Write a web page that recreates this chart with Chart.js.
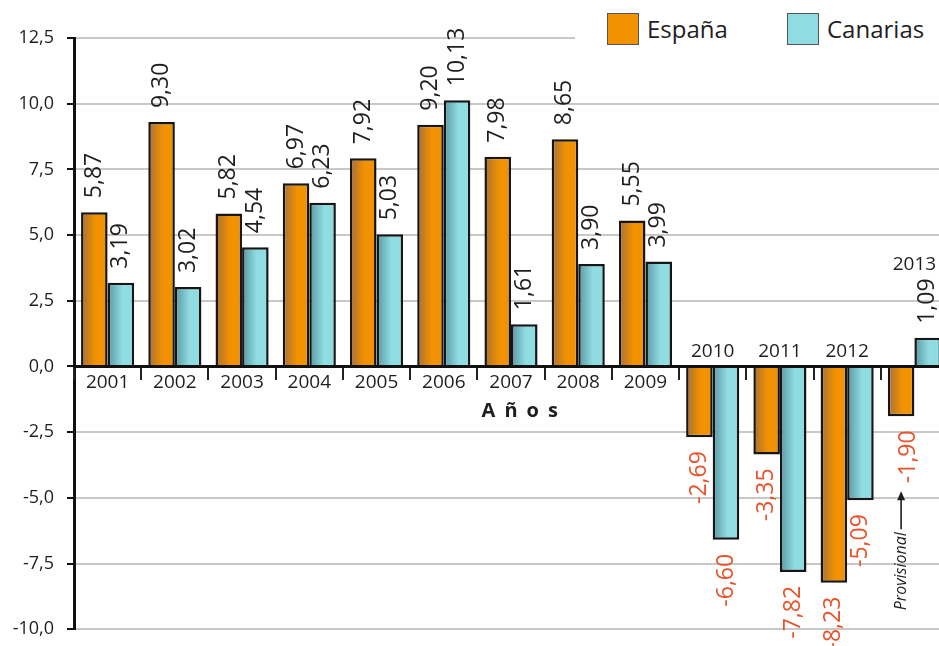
<!DOCTYPE html>
<html>
<head>
<meta charset="utf-8">
<script src="https://cdn.jsdelivr.net/npm/chart.js@4/dist/chart.umd.min.js"></script>
<style>
  html, body { margin: 0; padding: 0; background: #fff; overflow: hidden; }
  #wrap { position: relative; width: 948px; height: 653px; }
  #legend { position: absolute; left: 575px; top: 0; width: 373px; height: 52px; background: #fff;
            font-family: "Open Sans", sans-serif; font-size: 24px; color: #1e1e1e; }
  #legend .item { position: absolute; top: 13px; height: 32px; line-height: 32px; }
  #legend .sw { display: inline-block; width: 30px; height: 30px; vertical-align: top; margin-right: 8px; border: 1px solid #555; }
</style>
</head>
<body>
<div id="wrap">
  <canvas id="myChart"></canvas>
  <div id="legend"></div>
</div>
<script>
var years = ['2001','2002','2003','2004','2005','2006','2007','2008','2009','2010','2011','2012','2013'];
var espana = [5.87, 9.30, 5.82, 6.97, 7.92, 9.20, 7.98, 8.65, 5.55, -2.69, -3.35, -8.23, -1.90];
var canarias = [3.19, 3.02, 4.54, 6.23, 5.03, 10.13, 1.61, 3.90, 3.99, -6.60, -7.82, -5.09, 1.09];
var yTicks = [-10, -7.5, -5, -2.5, 0, 2.5, 5, 7.5, 10, 12.5];
var provisionalYears = ['2013'];

var FONT = '"Open Sans", sans-serif';
var CAT_PCT = 0.79;

function fmt(v, d) {
	return v.toFixed(d).replace('.', ',');
}

// horizontal shading like the original: darker on the left edge of each bar
function barFill(base, shade) {
	return function(c) {
		var chart = c.chart;
		var xs = chart.scales.x;
		if (!xs || c.dataIndex === undefined || !xs.width) return base;
		var catW = xs.width / years.length;
		var groupW = catW * CAT_PCT;
		var center = xs.getPixelForValue(c.dataIndex);
		var x0 = center - groupW / 2 + c.datasetIndex * groupW / 2;
		var g = chart.ctx.createLinearGradient(x0, 0, x0 + groupW / 2, 0);
		g.addColorStop(0, shade);
		g.addColorStop(0.55, base);
		g.addColorStop(1, base);
		return g;
	};
}

var labelPlugin = {
	id: 'barLabels',
	afterDraw: function(chart) {
		var ctx = chart.ctx;
		var xs = chart.scales.x, ys = chart.scales.y;
		var y0 = ys.getPixelForValue(0);
		var sets = chart.data.datasets;

		ctx.save();
		ctx.font = '23px ' + FONT;
		ctx.textBaseline = 'middle';
		sets.forEach(function(ds, di) {
			chart.getDatasetMeta(di).data.forEach(function(bar, i) {
				var v = ds.data[i];
				var prov = di === 0 && provisionalYears.indexOf(years[i]) >= 0;
				ctx.save();
				ctx.translate(bar.x + (prov ? 7 : 0), bar.y + (v >= 0 ? -14 : 14));
				ctx.rotate(-Math.PI / 2);
				ctx.fillStyle = v >= 0 ? '#1e1e1e' : '#e9522a';
				ctx.textAlign = v >= 0 ? 'left' : 'right';
				ctx.fillText(fmt(v, 2), 0, 0);
				if (prov) {
					var w = ctx.measureText(fmt(v, 2)).width;
					var a = -w - 8;
					ctx.translate(0, -7);
					ctx.strokeStyle = '#1e1e1e';
					ctx.fillStyle = '#1e1e1e';
					ctx.lineWidth = 1.6;
					ctx.beginPath();
					ctx.moveTo(a - 2, 0);
					ctx.lineTo(a - 38, 0);
					ctx.stroke();
					ctx.beginPath();
					ctx.moveTo(a, 0);
					ctx.lineTo(a - 9, -4);
					ctx.lineTo(a - 9, 4);
					ctx.closePath();
					ctx.fill();
					ctx.font = 'italic 16px ' + FONT;
					ctx.textAlign = 'right';
					ctx.fillText('Provisional', a - 41, 0);
				}
				ctx.restore();
			});
		});

		// category labels sit on the zero line
		ctx.font = '19px ' + FONT;
		ctx.fillStyle = '#1e1e1e';
		ctx.textAlign = 'center';
		years.forEach(function(yr, i) {
			var vals = sets.map(function(d) { return d.data[i]; });
			var mx = Math.max.apply(null, vals), mn = Math.min.apply(null, vals);
			var cx = xs.getPixelForValue(i);
			var ty;
			if (mn >= 0) ty = y0 + 16;
			else if (mx < 0) ty = y0 - 15;
			else {
				ctx.save();
				ctx.font = '23px ' + FONT;
				var lw = ctx.measureText(fmt(mx, 2)).width;
				ctx.restore();
				ty = ys.getPixelForValue(mx) - 14 - lw - 14;
			}
			ctx.fillText(yr, cx, ty);
		});

		// axis title
		ctx.font = 'bold 20px ' + FONT;
		ctx.textAlign = 'left';
		var title = 'Años'.split('');
		var gap = 9;
		var total = title.reduce(function(s, ch) { return s + ctx.measureText(ch).width; }, 0) + gap * (title.length - 1);
		var tx = chart.chartArea.left + (chart.chartArea.right - chart.chartArea.left) * 0.51 - total / 2;
		title.forEach(function(ch) {
			ctx.fillText(ch, tx, y0 + 45);
			tx += ctx.measureText(ch).width + gap;
		});
		ctx.restore();
	}
};

var ctx = document.getElementById('myChart').getContext('2d');
var myChart = new Chart(ctx, {
	type: 'bar',
	data: {
		labels: years,
		datasets: [{
			label: 'España',
			data: espana,
			backgroundColor: barFill('#f39200', '#a66f38'),
			legendColor: '#f39200',
			borderColor: '#161616',
			borderWidth: 2.5,
			categoryPercentage: CAT_PCT,
			barPercentage: 1.0
		}, {
			label: 'Canarias',
			data: canarias,
			backgroundColor: barFill('#8fdce2', '#5996a0'),
			legendColor: '#8fdce2',
			borderColor: '#161616',
			borderWidth: 2.5,
			categoryPercentage: CAT_PCT,
			barPercentage: 1.0
		}]
	},
	options: {
		responsive: true,
		maintainAspectRatio: false,
		animation: false,
		layout: { padding: { top: 38, bottom: 10, left: 0, right: 0 } },
		plugins: {
			legend: { display: false },
			tooltip: { enabled: false }
		},
		scales: {
			x: {
				position: { y: 0 },
				grid: { drawOnChartArea: false, offset: true, tickLength: 12, tickColor: '#222', lineWidth: 2, z: 1 },
				border: { color: '#111', width: 3, z: 1 },
				ticks: { display: false }
			},
			y: {
				min: -10,
				max: 12.5,
				afterBuildTicks: function(s) {
					s.ticks = yTicks.map(function(v) { return { value: v }; });
				},
				ticks: {
					callback: function(v) { return fmt(v, 1); },
					font: { size: 18, family: FONT },
					color: '#1e1e1e',
					padding: 13
				},
				grid: { color: '#c8c8c8', lineWidth: 2, tickColor: '#111', tickLength: 7 },
				border: { color: '#111', width: 3 },
				afterFit: function(s) { s.width = 74; }
			}
		}
	},
	plugins: [labelPlugin]
});

// legend drawn as html so it can sit over the plot like the original
var lg = document.getElementById('legend');
var lx = [32, 212];
myChart.data.datasets.forEach(function(ds, i) {
	var it = document.createElement('div');
	it.className = 'item';
	it.style.left = lx[i] + 'px';
	it.innerHTML = "<span class='sw' style='background:" + ds.legendColor + "'></span>" + ds.label;
	lg.appendChild(it);
});
</script>
</body>
</html>
